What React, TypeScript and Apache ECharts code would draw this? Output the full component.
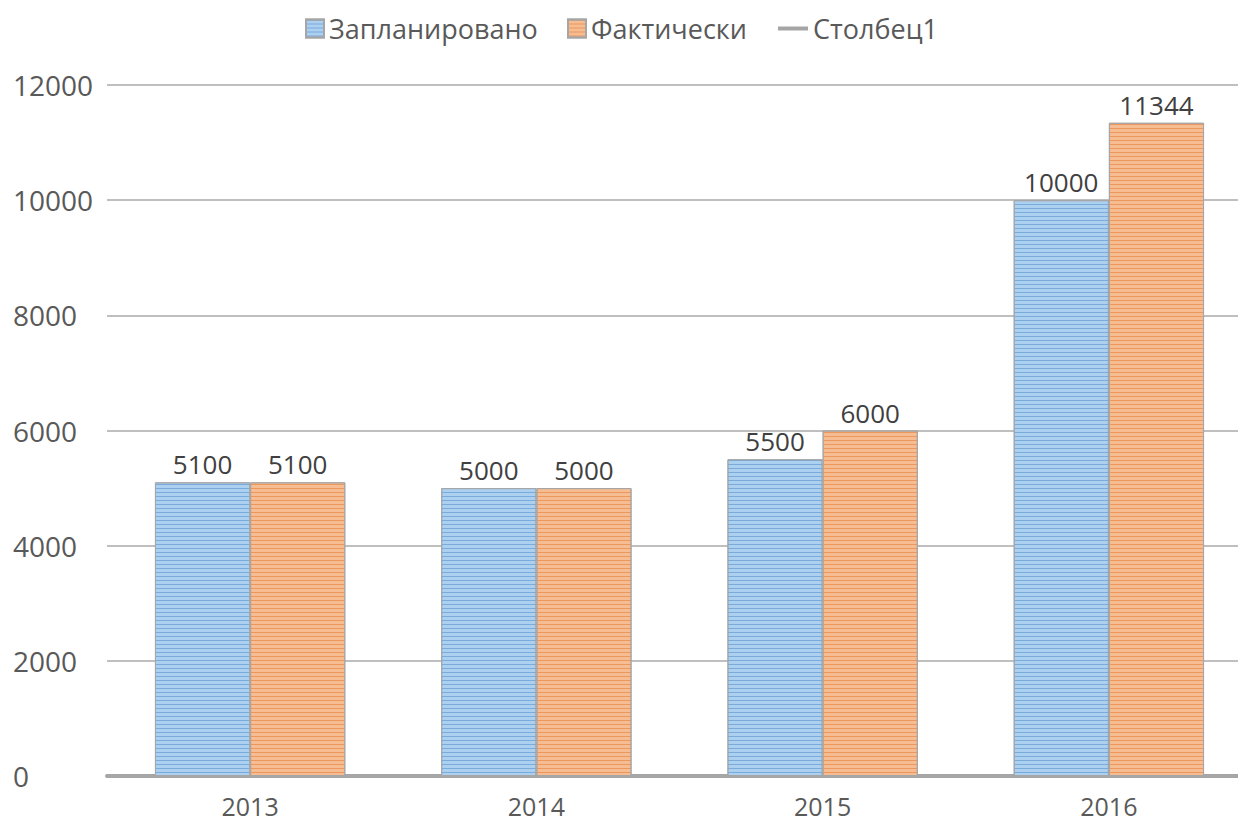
import React, { useEffect, useRef } from "react";
import * as echarts from "echarts";

const categories = ["2013", "2014", "2015", "2016"];
const planned = [5100, 5000, 5500, 10000];
const actual = [5100, 5000, 6000, 11344];
const column1: number[] = [];
const seriesNames = ["Запланировано", "Фактически", "Столбец1"];
const yTicks = [0, 2000, 4000, 6000, 8000, 10000, 12000];

const FONT = "'Open Sans', 'Noto Sans', sans-serif";

export default function App() {
  const ref = useRef<HTMLDivElement>(null);
  useEffect(() => {
    document.body.style.margin = "0";
    document.body.style.overflow = "hidden";
    if (!ref.current) return;
    const chart = echarts.init(ref.current, undefined, { renderer: "svg" });
    const label = {
      show: true,
      position: "top" as const,
      distance: 5,
      color: "#404040",
      fontSize: 26,
      fontFamily: FONT,
    };
    const legendBase = {
      top: 15,
      padding: 0,
      itemWidth: 18,
      itemHeight: 18,
      itemGap: 6,
      textStyle: { fontSize: 27, color: "#595959", fontFamily: FONT },
    };
    chart.setOption({
      animation: false,
      textStyle: { fontFamily: FONT },
      legend: [
        { ...legendBase, left: 305, data: [{ name: seriesNames[0], icon: "rect" }] },
        { ...legendBase, left: 567, data: [{ name: seriesNames[1], icon: "rect" }] },
        {
          ...legendBase,
          left: 778,
          itemWidth: 30,
          data: [{ name: seriesNames[2], icon: "path://M0 0H30V4H0Z" }],
        },
      ],
      grid: { left: 107, right: 0, top: 85, bottom: 48, containLabel: false },
      xAxis: {
        type: "category",
        data: categories,
        axisLine: { lineStyle: { color: "#a6a6a6", width: 4 } },
        axisTick: { show: false },
        axisLabel: {
          color: "#595959",
          fontSize: 25,
          margin: 17,
          fontFamily: FONT,
        },
      },
      yAxis: {
        type: "value",
        min: yTicks[0],
        max: yTicks[yTicks.length - 1],
        interval: 2000,
        axisLine: { show: false },
        axisTick: { show: false },
        splitLine: { lineStyle: { color: "#bfbfbf", width: 2 } },
        axisLabel: {
          color: "#595959",
          fontSize: 28,
          align: "left",
          margin: 94,
          fontFamily: FONT,
          formatter: (v: number) => String(v),
        },
      },
      series: [
        {
          name: seriesNames[0],
          type: "bar",
          data: planned,
          barGap: "0%",
          barCategoryGap: "33.5%",
          itemStyle: {
            color: "#acd0f0",
            borderColor: "#a6a6a6",
            borderWidth: 1,
            decal: {
              symbol: "rect",
              symbolSize: 1,
              dashArrayX: [1, 0],
              dashArrayY: [1, 3],
              rotation: 0,
              color: "rgba(80,140,200,0.55)",
            },
          },
          label,
        },
        {
          name: seriesNames[1],
          type: "bar",
          data: actual,
          itemStyle: {
            color: "#f6bd92",
            borderColor: "#a6a6a6",
            borderWidth: 1,
            decal: {
              symbol: "rect",
              symbolSize: 1,
              dashArrayX: [1, 0],
              dashArrayY: [1, 3],
              rotation: 0,
              color: "rgba(225,120,50,0.55)",
            },
          },
          label,
        },
        {
          name: seriesNames[2],
          type: "line",
          data: column1,
          symbol: "none",
          itemStyle: { color: "#a5a5a5" },
          lineStyle: { color: "#a5a5a5", width: 4 },
        },
      ],
    });
    return () => chart.dispose();
  }, []);
  return <div ref={ref} style={{ width: 1252, height: 824 }} />;
}
